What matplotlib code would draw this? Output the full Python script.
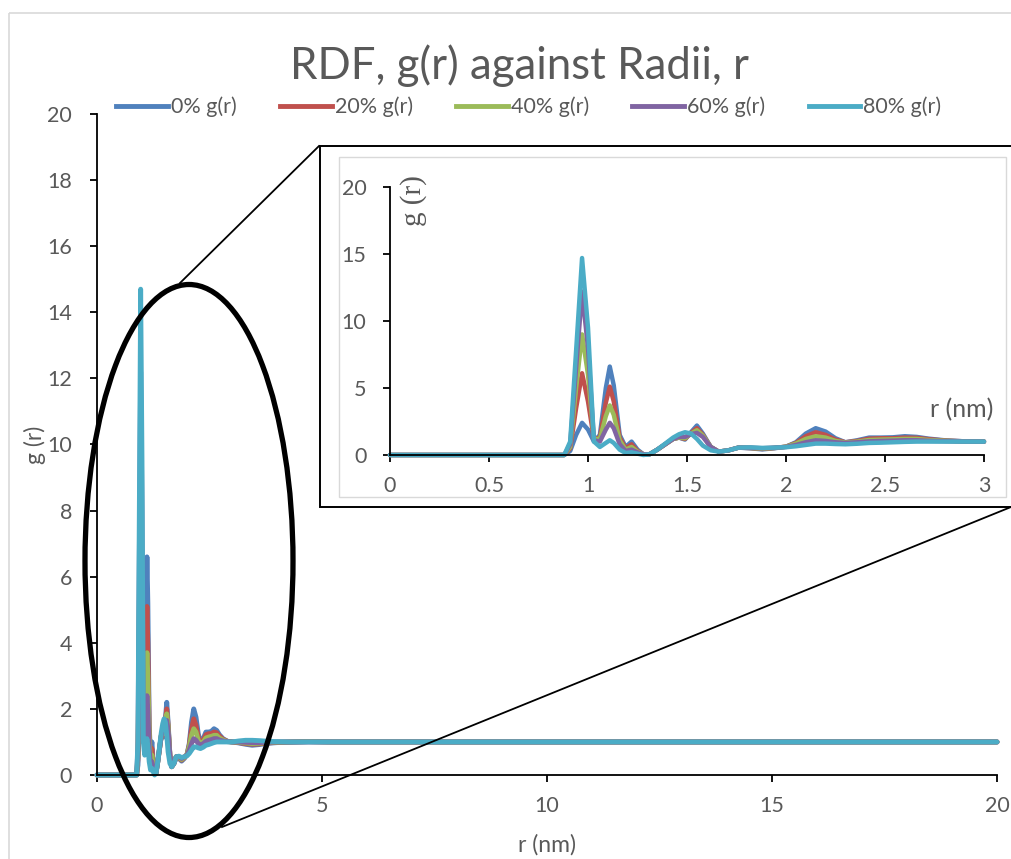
import matplotlib
matplotlib.use("Agg")
import matplotlib.pyplot as plt
import numpy as np
from matplotlib.patches import Ellipse, Rectangle
from matplotlib.lines import Line2D

# ---------------- data ----------------
r = [0, 0.5, 0.88, 0.91, 0.94, 0.97, 1.00, 1.03, 1.06, 1.09, 1.11, 1.13, 1.16, 1.19,
     1.22, 1.25, 1.28, 1.31, 1.35, 1.39, 1.43, 1.46, 1.49, 1.52, 1.55, 1.58, 1.62,
     1.66, 1.71, 1.76, 1.82, 1.88, 1.94, 2.00, 2.05, 2.10, 2.15, 2.20, 2.25, 2.30,
     2.36, 2.42, 2.48, 2.54, 2.60, 2.66, 2.72, 2.80, 2.90, 3.00, 3.15, 3.30, 3.45,
     3.60, 3.80, 4.00, 4.30, 4.70, 5.20, 6, 8, 10, 12, 14, 16, 18, 20]

g_0 = [0, 0, 0, 0.3, 1.5, 2.4, 1.9, 1.0, 1.5, 5.0, 6.6, 5.2, 1.5, 0.6,
       1.0, 0.4, 0.05, 0.05, 0.4, 0.8, 1.2, 1.3, 1.15, 1.7, 2.2, 1.6, 0.6,
       0.25, 0.35, 0.55, 0.5, 0.42, 0.5, 0.62, 0.95, 1.6, 2.0, 1.75, 1.25, 0.95,
       1.1, 1.3, 1.3, 1.32, 1.4, 1.35, 1.22, 1.1, 1.02, 1.0, 0.97, 0.93, 0.9,
       0.92, 0.96, 0.98, 0.99, 1.01, 1.0, 1.0, 1.0, 1.0, 1.0, 1.0, 1.0, 1.0, 1.0]
g_20 = [0, 0, 0, 0.5, 3.5, 6.1, 4.0, 1.2, 1.3, 3.9, 5.1, 4.0, 1.3, 0.5,
        0.8, 0.3, 0.05, 0.05, 0.4, 0.8, 1.2, 1.3, 1.2, 1.65, 2.0, 1.5, 0.6,
        0.25, 0.35, 0.55, 0.52, 0.45, 0.52, 0.62, 0.9, 1.4, 1.7, 1.5, 1.15, 0.95,
        1.05, 1.22, 1.25, 1.25, 1.3, 1.28, 1.18, 1.08, 1.02, 1.0, 0.98, 0.95, 0.93,
        0.94, 0.97, 0.99, 1.0, 1.01, 1.0, 1.0, 1.0, 1.0, 1.0, 1.0, 1.0, 1.0, 1.0]
g_40 = [0, 0, 0, 0.6, 5.0, 9.0, 6.0, 1.2, 1.2, 2.9, 3.7, 3.0, 1.1, 0.4,
        0.6, 0.25, 0.05, 0.05, 0.4, 0.8, 1.2, 1.3, 1.25, 1.6, 1.85, 1.45, 0.6,
        0.25, 0.35, 0.55, 0.53, 0.47, 0.53, 0.62, 0.85, 1.2, 1.4, 1.3, 1.05, 0.93,
        1.0, 1.12, 1.15, 1.17, 1.2, 1.2, 1.12, 1.06, 1.01, 1.0, 0.99, 0.97, 0.95,
        0.96, 0.98, 0.99, 1.0, 1.01, 1.0, 1.0, 1.0, 1.0, 1.0, 1.0, 1.0, 1.0, 1.0]
g_60 = [0, 0, 0, 0.8, 6.5, 12.2, 8.0, 1.1, 1.0, 1.9, 2.4, 2.0, 0.8, 0.3,
        0.4, 0.2, 0.05, 0.05, 0.4, 0.8, 1.2, 1.35, 1.35, 1.55, 1.65, 1.35, 0.6,
        0.25, 0.35, 0.55, 0.55, 0.5, 0.55, 0.6, 0.75, 0.95, 1.1, 1.05, 0.95, 0.9,
        0.95, 1.02, 1.05, 1.07, 1.1, 1.1, 1.06, 1.03, 1.01, 1.0, 1.0, 0.99, 0.98,
        0.98, 0.99, 1.0, 1.0, 1.0, 1.0, 1.0, 1.0, 1.0, 1.0, 1.0, 1.0, 1.0, 1.0]
g_80 = [0, 0, 0, 1.0, 7.8, 14.7, 9.5, 1.0, 0.6, 0.9, 1.1, 0.9, 0.4, 0.15,
        0.2, 0.1, 0.0, 0.05, 0.4, 0.85, 1.3, 1.55, 1.7, 1.6, 1.2, 0.7, 0.35,
        0.25, 0.35, 0.55, 0.57, 0.53, 0.55, 0.58, 0.65, 0.75, 0.85, 0.85, 0.82, 0.8,
        0.84, 0.9, 0.92, 0.95, 0.98, 1.0, 1.0, 1.0, 1.0, 1.0, 1.03, 1.05, 1.05,
        1.04, 1.02, 1.01, 1.0, 1.0, 1.0, 1.0, 1.0, 1.0, 1.0, 1.0, 1.0, 1.0, 1.0]

series_labels = ["0% g(r)", "20% g(r)", "40% g(r)", "60% g(r)", "80% g(r)"]
series_colors = ["#4F81BD", "#C0504D", "#9BBB59", "#8064A2", "#4BACC6"]

main_xticks = [0, 5, 10, 15, 20]
main_yticks = [0, 2, 4, 6, 8, 10, 12, 14, 16, 18, 20]
inset_xticks = [0, 0.5, 1, 1.5, 2, 2.5, 3]
inset_xticklabels = ["0", "0.5", "1", "1.5", "2", "2.5", "3"]
inset_yticks = [0, 5, 10, 15, 20]

title_text = "RDF, g(r) against Radii, r"
xlabel_text = "r (nm)"
ylabel_text = "g (r)"

# ---------------- style ----------------
plt.rcParams['font.family'] = ['Lato', 'DejaVu Sans']
TXT = "#595959"
W, H = 1011, 859
fig = plt.figure(figsize=(W / 100, H / 100), dpi=100)
fig.patch.set_facecolor("white")

all_g = [g_0, g_20, g_40, g_60, g_80]
r_arr = np.array(r)

# ---------------- main axes ----------------
ax = fig.add_axes([97 / W, 1 - 775 / H, 900 / W, 661 / H])
for g, c, lab in zip(all_g, series_colors, series_labels):
    ax.plot(r_arr, g, color=c, lw=3.5, label=lab, clip_on=False,
            solid_joinstyle='round', solid_capstyle='round')
ax.set_xlim(0, 20)
ax.set_ylim(0, 20)
ax.set_xticks(main_xticks)
ax.set_yticks(main_yticks)
for s in ["top", "right"]:
    ax.spines[s].set_visible(False)
for s in ["left", "bottom"]:
    ax.spines[s].set_color("black")
    ax.spines[s].set_linewidth(1.3)
ax.tick_params(axis="both", direction="out", length=5, width=1.3, color="black",
               labelcolor=TXT, labelsize=15.5)
ax.tick_params(axis="x", pad=10)
ax.tick_params(axis="y", pad=13)
ax.set_xlabel(xlabel_text, fontsize=16.5, color=TXT)
ax.set_ylabel(ylabel_text, fontsize=16.5, color=TXT)
ax.xaxis.set_label_coords(0.5, (775 - 845) / 661)
ax.yaxis.set_label_coords((35 - 97) / 900, 0.5)
ax.xaxis.label.set_va("center")
ax.yaxis.label.set_va("center")
ax.patch.set_alpha(0)

fig.text(519 / W, 1 - 66 / H, title_text, fontsize=31.5, color=TXT,
         ha="center", va="center")

handles = [Line2D([0], [0], color=c, lw=3.5) for c in series_colors]
fig.legend(handles, series_labels, loc="center", bbox_to_anchor=(529 / W, 1 - 107 / H),
           ncol=5, frameon=False, fontsize=15.5, labelcolor=TXT,
           handlelength=2.4, handletextpad=0.15, columnspacing=2.0)

# ---------------- overlay (pixel coordinates) ----------------
ov = fig.add_axes([0, 0, 1, 1], zorder=5)
ov.set_xlim(0, W)
ov.set_ylim(H, 0)
ov.axis("off")
ov.patch.set_alpha(0)
ov.add_patch(Rectangle((9, 13), 1100, 1000, fill=False, ec="#D9D9D9", lw=1.2))
ov.add_patch(Ellipse((189, 561), 208, 553, fill=False, ec="black", lw=3.8))
ov.plot([180, 319], [283, 146], color="black", lw=1.3)
ov.plot([222, 1011], [827, 507], color="black", lw=1.3)
ov.add_patch(Rectangle((320, 146), 760, 361, fc="white", ec="black", lw=1.4))
ov.add_patch(Rectangle((339, 157), 667, 340, fill=False, ec="#D9D9D9", lw=1.0))

# ---------------- inset axes ----------------
ax2 = fig.add_axes([390 / W, 1 - 455 / H, 594 / W, 268 / H], zorder=6)
mask = r_arr <= 3.0
for g, c in zip(all_g, series_colors):
    ax2.plot(r_arr[mask], np.array(g)[mask], color=c, lw=3.2, clip_on=False,
             solid_joinstyle='round', solid_capstyle='round')
ax2.set_xlim(0, 3)
ax2.set_ylim(0, 20)
ax2.set_xticks(inset_xticks)
ax2.set_xticklabels(inset_xticklabels)
ax2.set_yticks(inset_yticks)
for s in ["top", "right"]:
    ax2.spines[s].set_visible(False)
for s in ["left", "bottom"]:
    ax2.spines[s].set_color("black")
    ax2.spines[s].set_linewidth(1.3)
ax2.tick_params(axis="both", direction="out", length=5, width=1.3, color="black",
                labelcolor=TXT, labelsize=15.5)
ax2.tick_params(axis="x", pad=10)
ax2.tick_params(axis="y", pad=12)
ax2.patch.set_alpha(0)
fig.text(414 / W, 1 - 201 / H, ylabel_text, fontsize=21, color=TXT, rotation=90,
         ha="center", va="center", zorder=7,
         family=["Liberation Serif", "DejaVu Serif"])
fig.text(962 / W, 1 - 410 / H, xlabel_text, fontsize=18, color=TXT,
         ha="center", va="center", zorder=7)

fig.savefig("out.png", dpi=100)
